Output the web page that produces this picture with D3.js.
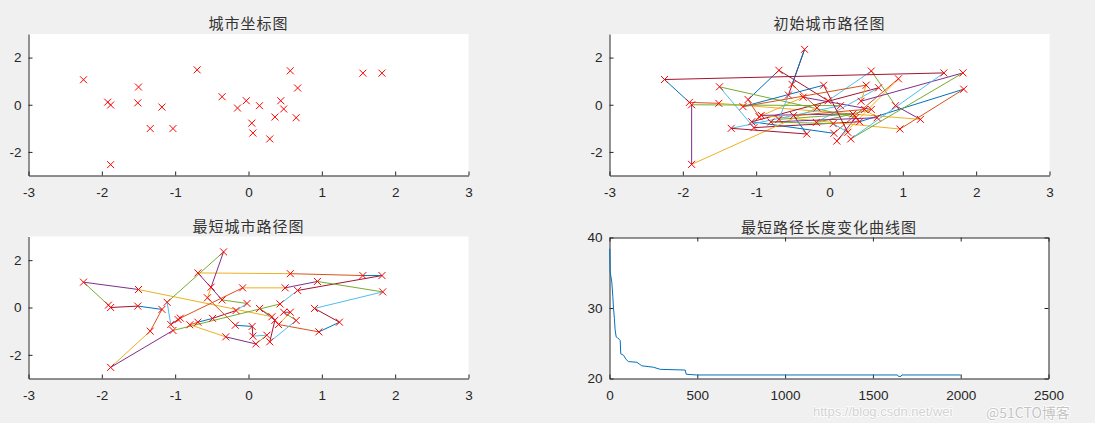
<!DOCTYPE html>
<html><head><meta charset="utf-8">
<script src="https://cdn.jsdelivr.net/npm/d3@7"></script>
<style>body{margin:0;background:#f0f0f0;} svg{display:block}</style>
</head><body><svg id="c" width="1095" height="423"></svg>
<script>
// ---- data ----
const coordX = [-2.25,-1.92,-1.88,-1.50,-1.51,-1.18,-1.34,-1.03,-1.88,-0.70,-0.36,-0.15,-0.03,0.15,0.045,0.06,0.29,0.36,0.44,0.48,0.57,0.67,0.65,1.56,1.82];
const coordY = [1.06,0.11,-0.01,0.75,0.08,-0.10,-1.01,-1.01,-2.54,1.48,0.34,-0.14,0.17,-0.04,-0.78,-1.20,-1.45,-0.52,0.17,-0.18,1.44,0.71,-0.55,1.34,1.34];

const cityX = [-2.25,-1.50,-1.91,-1.88,-1.51,-1.18,-1.11,-1.34,-1.88,-0.34,-0.69,-0.51,-0.56,-0.36,-0.08,-0.02,-0.17,-1.06,-1.03,-0.96,-0.93,-0.80,-0.69,-0.49,-0.31,-0.18,0.05,0.06,0.10,0.57,1.56,1.82,1.83,0.50,0.94,0.67,0.43,0.15,0.32,0.36,0.48,0.57,0.41,0.65,0.90,1.24,0.96,0.25,0.29];
const cityY = [1.07,0.76,0.10,0.00,0.06,-0.08,0.22,-1.00,-2.53,2.35,1.46,0.86,0.41,0.32,0.83,0.17,-0.13,-0.72,-0.97,-0.51,-0.45,-0.73,-0.62,-0.46,-1.24,-0.75,-0.80,-1.21,-1.54,1.43,1.35,1.35,0.66,0.83,1.10,0.72,0.15,-0.04,-0.39,-0.54,-0.20,-0.20,-0.72,-0.55,-0.04,-0.62,-1.03,-1.17,-1.45];

const initTour = [0,2,4,45,44,29,15,10,6,19,13,41,25,35,17,27,34,28,39,1,18,42,32,46,20,38,22,12,9,11,16,8,3,37,7,24,23,40,43,21,26,47,14,5,33,36,31,48,30];
const bestTour = [39,37,38,1,0,2,3,4,5,7,8,18,36,35,31,30,29,10,13,15,16,23,22,21,24,28,47,27,26,25,12,11,9,6,17,19,20,14,33,34,32,44,45,46,42,41,40,43,48];

const iterX   = [1,4,13,19,23,28,32,38,45,61,64,80,95,108,156,184,250,289,431,437,497,1640,1645,1660,1665,2000];
const bestLen = [38.4,35.1,33.7,31.6,29.9,28.5,26.9,25.9,25.8,25.4,23.5,23.3,22.7,22.4,22.3,21.8,21.6,21.3,21.2,20.6,20.5,20.5,20.3,20.3,20.5,20.5];

const titles = ["城市坐标图","初始城市路径图","最短城市路径图","最短路径长度变化曲线图"];
const posTicks = [-3,-2,-1,0,1,2,3];
const posYTicks = [-2,0,2];
const iterTicks = [0,500,1000,1500,2000,2500];
const lenTicks = [20,30,40];
const colorOrder = ["#0072BD","#D95319","#EDB120","#7E2F8E","#77AC30","#4DBEEE","#A2142F"];

// ---- drawing ----
const svg = d3.select("#c");
svg.append("rect").attr("width",1095).attr("height",423).attr("fill","#f0f0f0");
const AX = "#262626";
const FONT = "'Liberation Sans', Arial, sans-serif";

function styleAxis(g){
  g.attr("font-family",FONT).attr("font-size",13.5);
  g.selectAll("path.domain").attr("stroke",AX);
  g.selectAll(".tick line").attr("stroke",AX);
  g.selectAll(".tick text").attr("fill",AX);
}

function panel(x0,x1,y0,y1,xd,yd,xt,yt,title,box){
  const xs = d3.scaleLinear().domain(xd).range([x0,x1]);
  const ys = d3.scaleLinear().domain(yd).range([y1,y0]);
  const g = svg.append("g");
  g.append("rect").attr("x",x0).attr("y",y0).attr("width",x1-x0).attr("height",y1-y0).attr("fill","#fff");
  const fmt = d=>String(d);
  g.append("g").attr("transform",`translate(0,${y1})`)
    .call(d3.axisBottom(xs).tickValues(xt).tickSizeInner(-4).tickSizeOuter(0).tickPadding(12).tickFormat(fmt)).call(styleAxis);
  g.append("g").attr("transform",`translate(${x0},0)`)
    .call(d3.axisLeft(ys).tickValues(yt).tickSizeInner(-4).tickSizeOuter(0).tickPadding(7).tickFormat(fmt)).call(styleAxis);
  if(box){
    g.append("g").attr("transform",`translate(0,${y0})`)
      .call(d3.axisTop(xs).tickValues(xt).tickSizeInner(-4).tickSizeOuter(0).tickFormat("")).call(styleAxis);
    g.append("g").attr("transform",`translate(${x1},0)`)
      .call(d3.axisRight(ys).tickValues(yt).tickSizeInner(-4).tickSizeOuter(0).tickFormat("")).call(styleAxis);
  }
  svg.append("text").attr("x",(x0+x1)/2).attr("y",y0-5).attr("text-anchor","middle")
    .attr("font-family","'Noto Sans CJK SC', sans-serif").attr("font-size",15).attr("letter-spacing",1)
    .attr("fill","#333333").text(title);
  const layer = svg.append("g");
  return {xs,ys,layer};
}

const markerJobs = [];
function markers(p, xsArr, ysArr){ markerJobs.push([p,xsArr,ysArr]); }
function drawMarkers(){
  const top = svg.append("g").attr("class","markers");
  markerJobs.forEach(([p,xsArr,ysArr])=>{
    top.selectAll(null).data(xsArr.map((x,i)=>[x,ysArr[i]])).enter().append("path")
      .attr("d",d=>{const cx=p.xs(d[0]), cy=p.ys(d[1]);
        return `M${cx-3.5},${cy-3.5}L${cx+3.5},${cy+3.5}M${cx-3.5},${cy+3.5}L${cx+3.5},${cy-3.5}`;})
      .style("stroke","#ff0000").style("stroke-width","1px").style("fill","none");
  });
}

function tourLines(p, tour){
  const segs = tour.map((c,i)=>[c, tour[(i+1)%tour.length]]);
  p.layer.selectAll(null).data(segs).enter().append("line")
    .attr("x1",d=>p.xs(cityX[d[0]])).attr("y1",d=>p.ys(cityY[d[0]]))
    .attr("x2",d=>p.xs(cityX[d[1]])).attr("y2",d=>p.ys(cityY[d[1]]))
    .attr("stroke",(d,i)=>colorOrder[i%7]).attr("stroke-width",1);
}

// Plot 1
const p1 = panel(28.5,468.5,34,175.5,[-3,3],[-3,3],posTicks,posYTicks,titles[0],false);
markers(p1, coordX, coordY);

// Plot 2
const p2 = panel(609.5,1049.5,34,175.5,[-3,3],[-3,3],posTicks,posYTicks,titles[1],false);
tourLines(p2, initTour);
markers(p2, cityX, cityY);

// Plot 3
const p3 = panel(28.5,468.5,236.5,378.5,[-3,3],[-3,3],posTicks,posYTicks,titles[2],false);
tourLines(p3, bestTour);
markers(p3, cityX, cityY);

// Plot 4
const p4 = panel(609.5,1048.5,237.5,378.5,[0,2500],[20,40],iterTicks,lenTicks,titles[3],true);
p4.layer.append("path")
  .datum(iterX.map((x,i)=>[x,bestLen[i]]))
  .attr("d",d3.line().x(d=>p4.xs(d[0])).y(d=>p4.ys(d[1])))
  .attr("fill","none").attr("stroke","#0072BD").attr("stroke-width",1);

drawMarkers();

// watermark
svg.append("text").attr("x",813).attr("y",416).attr("font-family",FONT).attr("font-size",13)
  .attr("fill","#d2d2d2").attr("stroke","#ffffff").attr("stroke-width",1.5).attr("paint-order","stroke")
  .text("https://blog.csdn.net/wei");
svg.append("text").attr("x",986).attr("y",418).attr("font-family","'Noto Sans CJK SC', sans-serif").attr("font-size",14)
  .attr("fill","#c4c4c4").attr("stroke","#ffffff").attr("stroke-width",1.5).attr("paint-order","stroke")
  .text("@51CTO博客");
</script>
</body></html>
